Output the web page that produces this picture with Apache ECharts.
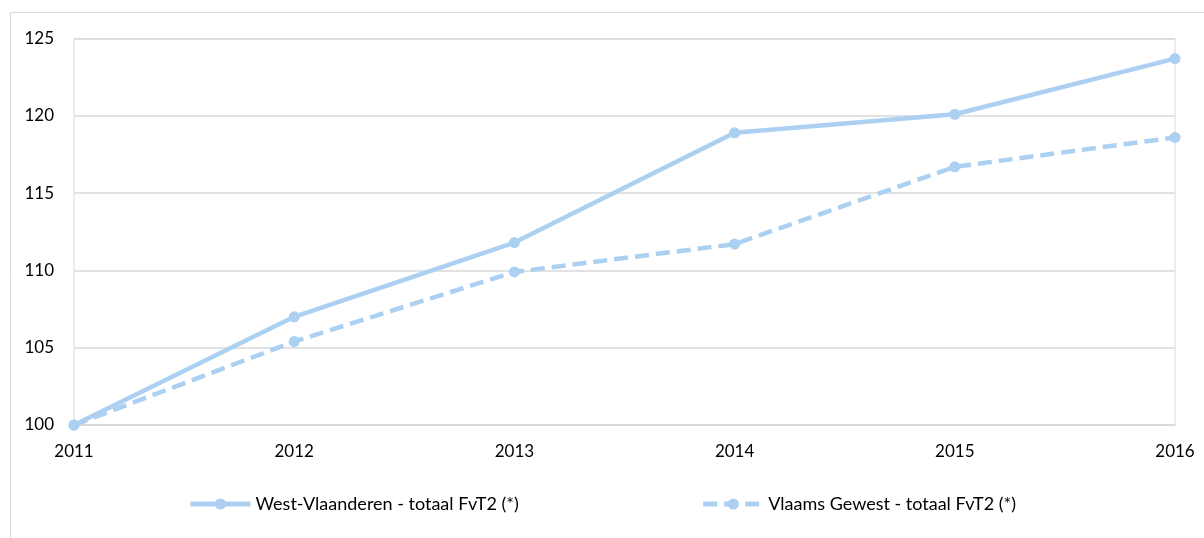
<!DOCTYPE html>
<html>
<head>
<meta charset="utf-8">
<script src="https://cdn.jsdelivr.net/npm/echarts@6/dist/echarts.min.js"></script>
<style>
  html, body { margin: 0; padding: 0; background: #fff; }
  #chart { width: 1204px; height: 538px; }
</style>
</head>
<body>
<div id="chart"></div>
<script>
// Gegevens (index 2011 = 100)
const jaren = ['2011', '2012', '2013', '2014', '2015', '2016'];
const westVlaanderen = [100, 107.0, 111.8, 118.9, 120.1, 123.7];
const vlaamsGewest = [100, 105.4, 109.9, 111.7, 116.7, 118.6];

const kleur = '#abd0f1';
const lettertype = 'Lato, "Open Sans", sans-serif';

const chart = echarts.init(document.getElementById('chart'), null, { renderer: 'canvas' });

chart.setOption({
  animation: false,
  textStyle: { fontFamily: lettertype },
  graphic: [
    {
      type: 'rect',
      shape: { x: 10.5, y: 12.5, width: 1300, height: 700 },
      style: { fill: 'none', stroke: '#d9d9d9', lineWidth: 1 }
    }
  ],
  grid: {
    left: 74, right: 29, top: 38.5, bottom: 113,
    show: true, borderColor: '#d9d9d9', borderWidth: 1
  },
  legend: {
    left: 'center',
    top: 490,
    itemWidth: 60,
    itemHeight: 14,
    itemGap: 182,
    lineStyle: { width: 5 },
    textStyle: { fontSize: 18, color: '#000', fontFamily: lettertype }
  },
  xAxis: {
    type: 'category',
    data: jaren,
    boundaryGap: false,
    axisLine: { lineStyle: { color: '#d9d9d9', width: 1.5 } },
    axisTick: { show: false },
    axisLabel: { color: '#000', fontSize: 17, margin: 18 }
  },
  yAxis: {
    type: 'value',
    min: 100,
    max: 125,
    interval: 5,
    axisLine: { show: false },
    axisTick: { show: false },
    axisLabel: { color: '#000', fontSize: 17, margin: 20 },
    splitLine: { lineStyle: { color: '#d9d9d9', width: 1.5 } }
  },
  series: [
    {
      name: 'West-Vlaanderen - totaal FvT2 (*)',
      type: 'line',
      data: westVlaanderen,
      symbol: 'circle',
      symbolSize: 11,
      itemStyle: { color: kleur },
      lineStyle: { color: kleur, width: 4.5 }
    },
    {
      name: 'Vlaams Gewest - totaal FvT2 (*)',
      type: 'line',
      data: vlaamsGewest,
      symbol: 'circle',
      symbolSize: 11,
      itemStyle: { color: kleur },
      lineStyle: { color: kleur, width: 4.5, type: [14, 7] }
    }
  ]
});
</script>
</body>
</html>
